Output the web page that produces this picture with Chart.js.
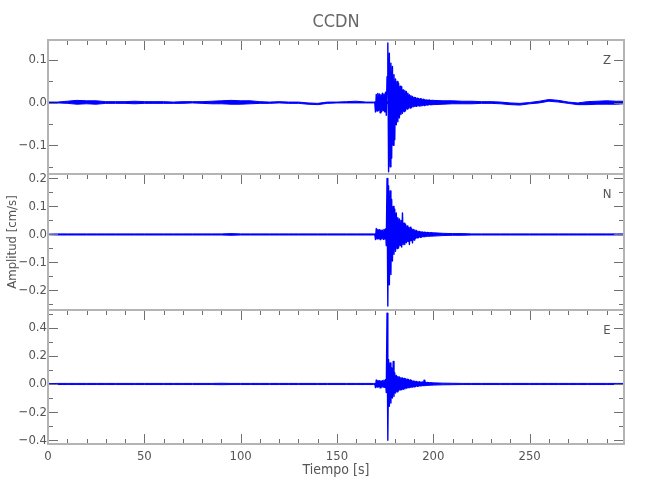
<!DOCTYPE html>
<html>
<head>
<meta charset="utf-8">
<title>CCDN</title>
<script src="https://cdn.jsdelivr.net/npm/chart.js@4.4.1/dist/chart.umd.min.js"></script>
<style>
  html, body { margin: 0; padding: 0; background: #fff; }
  #wrap { position: relative; width: 650px; height: 500px; }
  #wrap canvas { position: absolute; left: 0; top: 0; }
</style>
</head>
<body>
<div id="wrap">
  <canvas id="chart-z" width="650" height="500"></canvas>
  <canvas id="chart-n" width="650" height="500"></canvas>
  <canvas id="chart-e" width="650" height="500"></canvas>
</div>
<script>
// Quiet parts of the records: min / max of the noise band at these times (s)
const quietTime = [
  0, 5, 10, 15, 20, 25, 30, 35, 40, 45, 50, 55, 60, 65, 70, 75, 80, 85, 90, 95,
  100, 105, 110, 115, 120, 125, 130, 135, 140, 145, 150, 155, 160, 165, 169,
  200, 205, 210, 215, 220, 225, 230, 235, 240, 245, 250, 255, 260, 265, 270,
  275, 280, 285, 290, 295, 299
];
// The event itself, sampled every 0.4 s from 169.6 s
const eventStart = 169.6, eventStep = 0.4;

// Z component (cm/s)
const zQuietLow = [
  -0.001, -0.001, -0.002, -0.004, -0.003, -0.004, -0.002, -0.002, -0.002, -0.003,
  -0.002, -0.002, -0.002, -0.002, -0.002, -0.001, -0.002, -0.003, -0.003, -0.004,
  -0.004, -0.003, -0.002, -0.002, -0.001, -0.002, -0.002, -0.004, -0.005, -0.002,
  -0.001, -0.001, -0.001, -0.001, -0.001,
  -0.005, -0.004, -0.003, -0.003, -0.003, -0.002, -0.002, -0.003, -0.005, -0.006,
  -0.003, -0.001, 0.003, 0.001, -0.002, -0.005, -0.005, -0.004, -0.004, -0.004, -0.003
];
const zQuietHigh = [
  0.001, 0.001, 0.003, 0.005, 0.004, 0.004, 0.002, 0.002, 0.002, 0.003,
  0.002, 0.002, 0.002, 0.001, 0.002, 0.002, 0.002, 0.003, 0.004, 0.005,
  0.004, 0.004, 0.002, 0.001, 0.002, 0.001, 0.001, -0.001, -0.002, 0.001,
  0.001, 0.002, 0.003, 0.001, 0.001,
  0.005, 0.004, 0.004, 0.003, 0.003, 0.002, 0.002, 0.001, -0.001, -0.002,
  0.000, 0.003, 0.007, 0.005, 0.001, -0.001, 0.002, 0.003, 0.004, 0.003, 0.003
];
const zEvent = [
  0.002, -0.022, 0.019, -0.020, 0.021, -0.018, 0.020, -0.024, 0.018, -0.021,
  0.022, -0.019, 0.020, -0.022, 0.024, -0.030, 0.060, 0.139, -0.162, 0.115,
  -0.150, 0.092, -0.130, 0.084, -0.100, 0.065, -0.087, 0.055, -0.052, 0.049,
  -0.045, 0.045, -0.036, 0.038, -0.028, 0.037, -0.025, 0.030, -0.021, 0.028,
  -0.019, 0.026, -0.015, 0.022, -0.013, 0.018, -0.013, 0.016, -0.011, 0.014,
  -0.010, 0.012, -0.009, 0.011, -0.009, 0.010, -0.008, 0.009, -0.008, 0.009,
  -0.008, 0.008, -0.007, 0.008, -0.007, 0.007, -0.006, 0.006, -0.006, 0.006,
  -0.005, 0.006, -0.005, 0.005, -0.005, 0.005, -0.004
];

// N component (cm/s)
const nQuietLow = [
  -0.001, -0.002, -0.002, -0.002, -0.002, -0.002, -0.002, -0.002, -0.002, -0.002,
  -0.002, -0.002, -0.002, -0.002, -0.002, -0.002, -0.002, -0.002, -0.002, -0.003,
  -0.002, -0.002, -0.002, -0.002, -0.002, -0.002, -0.002, -0.002, -0.002, -0.002,
  -0.002, -0.002, -0.002, -0.002, -0.002,
  -0.006, -0.004, -0.003, -0.003, -0.002, -0.002, -0.002, -0.002, -0.002, -0.002,
  -0.002, -0.002, -0.002, -0.002, -0.002, -0.002, -0.002, -0.002, -0.002, -0.002, -0.002
];
const nQuietHigh = [
  0.001, 0.002, 0.002, 0.002, 0.002, 0.002, 0.002, 0.002, 0.002, 0.002,
  0.002, 0.002, 0.002, 0.002, 0.002, 0.002, 0.002, 0.002, 0.002, 0.003,
  0.002, 0.002, 0.002, 0.002, 0.002, 0.002, 0.002, 0.002, 0.002, 0.002,
  0.002, 0.002, 0.002, 0.002, 0.002,
  0.006, 0.004, 0.003, 0.003, 0.002, 0.002, 0.002, 0.002, 0.002, 0.002,
  0.002, 0.002, 0.002, 0.002, 0.002, 0.002, 0.002, 0.002, 0.002, 0.002, 0.002
];
const nEvent = [
  0.002, -0.018, 0.021, -0.016, 0.018, -0.015, 0.017, -0.018, 0.016, -0.014,
  0.015, -0.017, 0.018, -0.016, 0.020, -0.040, 0.200, -0.256, 0.173, -0.180,
  0.155, -0.143, 0.125, -0.095, 0.100, -0.071, 0.090, -0.060, 0.077, -0.050,
  0.060, -0.048, 0.055, -0.040, 0.050, -0.045, 0.077, -0.036, 0.040, -0.036,
  0.036, -0.030, 0.030, -0.025, 0.024, -0.036, 0.026, -0.022, 0.020, -0.030,
  0.018, -0.020, 0.016, -0.014, 0.014, -0.012, 0.012, -0.011, 0.011, -0.010,
  0.010, -0.009, 0.009, -0.008, 0.008, -0.008, 0.007, -0.007, 0.007, -0.006,
  0.006, -0.006, 0.005, -0.005, 0.005, -0.004, 0.004
];

// E component (cm/s)
const eQuietLow = [
  -0.002, -0.004, -0.004, -0.004, -0.004, -0.004, -0.004, -0.004, -0.004, -0.004,
  -0.004, -0.004, -0.004, -0.004, -0.004, -0.004, -0.004, -0.004, -0.005, -0.004,
  -0.004, -0.004, -0.004, -0.004, -0.004, -0.004, -0.004, -0.004, -0.004, -0.004,
  -0.004, -0.004, -0.004, -0.004, -0.004,
  -0.008, -0.006, -0.005, -0.004, -0.004, -0.004, -0.004, -0.004, -0.004, -0.004,
  -0.004, -0.004, -0.004, -0.004, -0.004, -0.004, -0.004, -0.004, -0.004, -0.004, -0.004
];
const eQuietHigh = [
  0.002, 0.004, 0.004, 0.004, 0.004, 0.004, 0.004, 0.004, 0.004, 0.004,
  0.004, 0.004, 0.004, 0.004, 0.004, 0.004, 0.004, 0.004, 0.005, 0.004,
  0.004, 0.004, 0.004, 0.004, 0.004, 0.004, 0.004, 0.004, 0.004, 0.004,
  0.004, 0.004, 0.004, 0.004, 0.004,
  0.008, 0.006, 0.005, 0.004, 0.004, 0.004, 0.004, 0.004, 0.004, 0.004,
  0.004, 0.004, 0.004, 0.004, 0.004, 0.004, 0.004, 0.004, 0.004, 0.004, 0.004
];
const eEvent = [
  0.002, -0.025, 0.028, -0.022, 0.025, -0.020, 0.024, -0.028, 0.022, -0.020,
  0.024, -0.022, 0.026, -0.024, 0.030, -0.060, 0.503, -0.400, 0.173, -0.158,
  0.149, -0.135, 0.113, -0.100, 0.160, -0.087, 0.078, -0.064, 0.060, -0.055,
  0.054, -0.047, 0.050, -0.042, 0.045, -0.040, 0.043, -0.038, 0.040, -0.035,
  0.036, -0.030, 0.033, -0.028, 0.031, -0.026, 0.028, -0.024, 0.024, -0.022,
  0.022, -0.020, 0.020, -0.018, 0.018, -0.016, 0.017, -0.015, 0.016, -0.013,
  0.014, -0.012, 0.014, -0.011, 0.026, -0.011, 0.012, -0.010, 0.010, -0.009,
  0.009, -0.008, 0.008, -0.007, 0.007, -0.006, 0.006
];

// Axes
const timeRange = [0, 299];
const timeTicks = [0, 50, 100, 150, 200, 250];
const timeMinor = [0, 10, 20, 30, 40, 50, 60, 70, 80, 90, 100, 110, 120, 130, 140, 150,
  160, 170, 180, 190, 200, 210, 220, 230, 240, 250, 260, 270, 280, 290];

const zRange = [-0.167, 0.146];
const zTicks = [-0.1, 0.0, 0.1];
const zMinor = [-0.15, -0.1, -0.05, 0.0, 0.05, 0.1];

const nRange = [-0.27, 0.216];
const nTicks = [-0.2, -0.1, 0.0, 0.1, 0.2];
const nMinor = [-0.25, -0.2, -0.15, -0.1, -0.05, 0.0, 0.05, 0.1, 0.15, 0.2];

const eRange = [-0.426, 0.525];
const eTicks = [-0.4, -0.2, 0.0, 0.2, 0.4];
const eMinor = [-0.4, -0.3, -0.2, -0.1, 0.0, 0.1, 0.2, 0.3, 0.4, 0.5];

const FONT = '"Liberation Sans Narrow", "DejaVu Sans Condensed", "Liberation Sans", sans-serif';
const TEXT = '#555';
const BLUE = '#0000ff';
Chart.defaults.font.family = FONT;
Chart.defaults.color = TEXT;

const toPoints = (times, vals) => vals.map((v, i) => ({ x: times[i], y: v }));
const eventPoints = (vals) => vals.map((v, i) => ({ x: eventStart + i * eventStep, y: v }));

function fmt(v) {
  if (Math.abs(v) < 1e-9) return "0.0";
  return v.toFixed(1).replace("-", "\u2212");
}

const near = (list, v) => list.some((t) => Math.abs(t - v) < 1e-6);

// Box, inward tick marks and component name
const panelFrame = {
  id: "panelFrame",
  afterDraw(chart, args, opts) {
    const { ctx, chartArea: a, scales } = chart;
    const xs = scales.x, ys = scales.y;
    ctx.save();
    ctx.strokeStyle = "#707070";
    ctx.lineWidth = 1;
    ctx.beginPath();
    timeMinor.forEach((t) => {
      const px = Math.round(xs.getPixelForValue(t)) + 0.5;
      const len = near(timeTicks, t) ? 10 : 5;
      ctx.moveTo(px, a.top);
      ctx.lineTo(px, a.top + len);
      if (opts.bottomTicks) {
        ctx.moveTo(px, a.bottom);
        ctx.lineTo(px, a.bottom - len);
      }
    });
    opts.minor.forEach((v) => {
      const py = Math.round(ys.getPixelForValue(v)) + 0.5;
      const len = near(opts.major, v) ? 10 : 5;
      ctx.moveTo(a.left, py);
      ctx.lineTo(a.left + len, py);
      ctx.moveTo(a.right, py);
      ctx.lineTo(a.right - len, py);
    });
    ctx.stroke();

    ctx.strokeStyle = "#b4b4b4";
    ctx.lineWidth = 2;
    ctx.strokeRect(a.left, a.top, a.right - a.left, a.bottom - a.top);

    ctx.fillStyle = TEXT;
    ctx.font = "13px " + FONT;
    ctx.textAlign = "center";
    ctx.textBaseline = "middle";
    ctx.fillText(opts.label, a.right - 17, a.top + 21);
    ctx.restore();
  }
};

function makePanel(id, cfg) {
  const yScale = {
    min: cfg.range[0],
    max: cfg.range[1],
    afterBuildTicks: (s) => { s.ticks = cfg.major.map((v) => ({ value: v })); },
    afterFit: (s) => { s.width = 48; s.paddingTop = 0; s.paddingBottom = 0; },
    grid: { display: false, drawTicks: false },
    border: { display: false },
    ticks: { callback: (v) => fmt(v), padding: 1, font: { size: 13 }, color: TEXT },
    title: cfg.yTitle
      ? { display: true, text: cfg.yTitle, color: TEXT, font: { size: 13 }, padding: { top: 5, bottom: 0 } }
      : { display: false }
  };
  const xScale = {
    type: "linear",
    min: timeRange[0],
    max: timeRange[1],
    display: cfg.showX,
    afterBuildTicks: (s) => { s.ticks = timeTicks.map((v) => ({ value: v })); },
    afterFit: (s) => { s.height = cfg.showX ? 56 : 0; s.paddingLeft = 0; s.paddingRight = 0; },
    grid: { display: false, drawTicks: false },
    border: { display: false },
    ticks: { callback: (v) => String(v), padding: 5, autoSkip: false, maxRotation: 0, font: { size: 13 }, color: TEXT },
    title: { display: true, text: "Tiempo [s]", color: TEXT, font: { size: 14 }, padding: { top: 0, bottom: 21 } }
  };

  const line = { borderColor: BLUE, borderWidth: 1, borderJoinStyle: "round", pointRadius: 0, tension: 0 };

  return new Chart(document.getElementById(id), {
    type: "line",
    data: {
      datasets: [
        { ...line, label: "evento", data: eventPoints(cfg.event), borderWidth: 1.4 },
        { ...line, label: "ruido min", data: toPoints(quietTime, cfg.low), fill: false },
        { ...line, label: "ruido max", data: toPoints(quietTime, cfg.high), fill: "-1", backgroundColor: BLUE }
      ]
    },
    options: {
      responsive: false,
      animation: false,
      events: [],
      layout: { padding: cfg.padding },
      scales: { x: xScale, y: yScale },
      plugins: {
        legend: { display: false },
        tooltip: { enabled: false },
        title: cfg.title
          ? { display: true, text: cfg.title, color: "#666", fullSize: false,
              font: { size: 18, weight: "normal" }, padding: { top: 12, bottom: 6.4 } }
          : { display: false },
        panelFrame: { label: cfg.label, major: cfg.major, minor: cfg.minor, bottomTicks: cfg.showX }
      }
    },
    plugins: [panelFrame]
  });
}

makePanel("chart-z", {
  event: zEvent, low: zQuietLow, high: zQuietHigh, range: zRange, major: zTicks, minor: zMinor,
  label: "Z", title: "CCDN", showX: false,
  padding: { left: 0, right: 26, top: 0, bottom: 326 }
});
makePanel("chart-n", {
  event: nEvent, low: nQuietLow, high: nQuietHigh, range: nRange, major: nTicks, minor: nMinor,
  label: "N", yTitle: "Amplitud [cm/s]", showX: false,
  padding: { left: 0, right: 26, top: 174, bottom: 190 }
});
makePanel("chart-e", {
  event: eEvent, low: eQuietLow, high: eQuietHigh, range: eRange, major: eTicks, minor: eMinor,
  label: "E", showX: true,
  padding: { left: 0, right: 26, top: 310, bottom: 0 }
});
</script>
</body>
</html>
